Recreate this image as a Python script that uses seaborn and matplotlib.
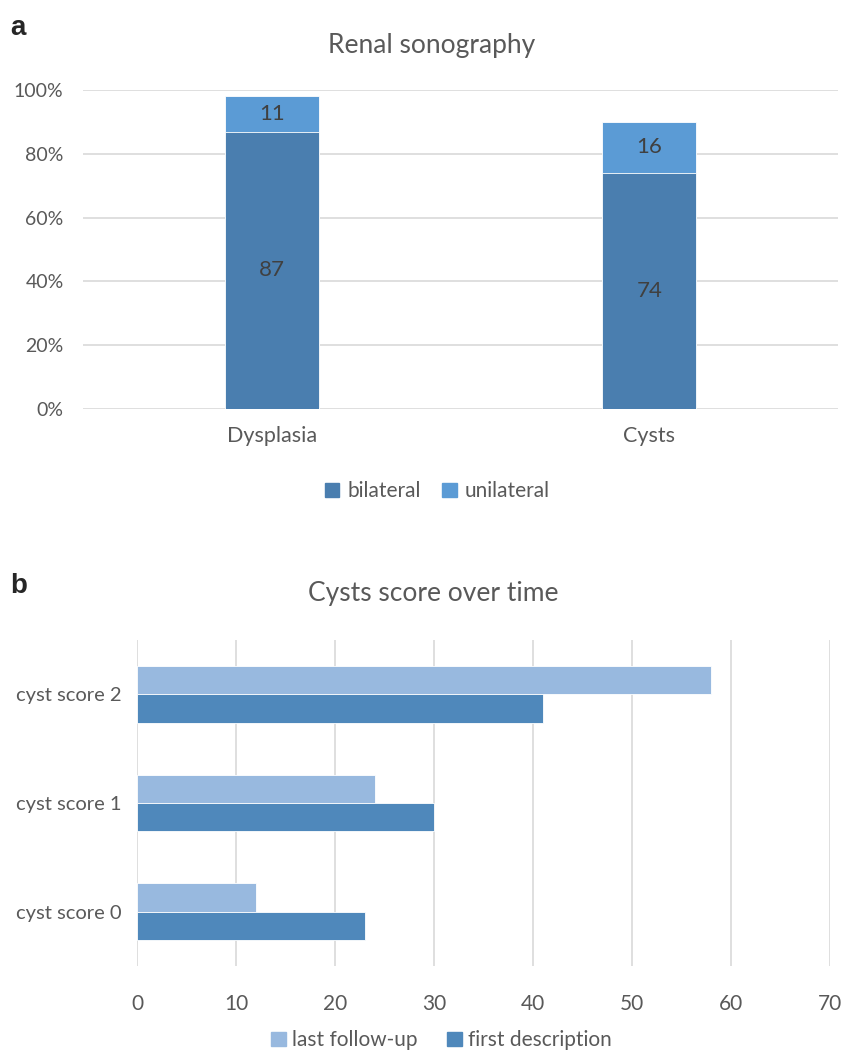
import seaborn as sns
import pandas as pd
import matplotlib.pyplot as plt
from matplotlib.patches import Patch
from matplotlib.ticker import PercentFormatter

# panel a data
sono_categories = ["Dysplasia", "Cysts"]
bilateral = [87, 74]
unilateral = [11, 16]

# panel b data
score_categories = ["cyst score 2", "cyst score 1", "cyst score 0"]
last_follow_up = [58, 24, 12]
first_description = [41, 30, 23]

sns.set_theme(style="white")
plt.rcParams['font.family'] = ['Lato', 'DejaVu Sans']

TEXT = "#595959"
GRID = "#D9D9D9"
c_bil, c_uni = "#4A7EAF", "#5B9BD5"
c_last, c_first = "#98B9DF", "#4F88BB"

fig = plt.figure(figsize=(8.41, 10.52), dpi=100)

# ---- panel a: stacked columns
ax1 = fig.add_axes([0.0987, 0.6112, 0.8977, 0.3032])
df_a = pd.DataFrame({"cat": sono_categories,
                     "bilateral": bilateral,
                     "total": [b + u for b, u in zip(bilateral, unilateral)]})
sns.barplot(data=df_a, x="cat", y="total", color=c_uni, width=0.25,
            saturation=1, ax=ax1, edgecolor="white", linewidth=0.6)
sns.barplot(data=df_a, x="cat", y="bilateral", color=c_bil, width=0.25,
            saturation=1, ax=ax1, edgecolor="white", linewidth=0.6)
ax1.set_ylim(0, 100)
ax1.set_xlim(-0.5, 1.5)
ax1.set_yticks(range(0, 101, 20))
ax1.yaxis.set_major_formatter(PercentFormatter(decimals=0))
ax1.yaxis.grid(True, color=GRID, linewidth=1.2)
ax1.set_axisbelow(True)
for s in ax1.spines.values():
    s.set_visible(False)
ax1.set_xlabel("")
ax1.set_ylabel("")
ax1.tick_params(axis="y", labelsize=14, colors=TEXT, length=0, pad=14)
ax1.tick_params(axis="x", labelsize=15.5, colors=TEXT, length=0, pad=12)
for i, (b, u) in enumerate(zip(bilateral, unilateral)):
    ax1.text(i, b / 2, str(b), ha="center", va="center", fontsize=16, color="#404040")
    ax1.text(i, b + u / 2, str(u), ha="center", va="center", fontsize=16, color="#404040")
fig.text(0.513, 0.957, "Renal sonography", ha="center", va="center", fontsize=19, color=TEXT)
fig.text(0.012, 0.973, "a", fontsize=20, fontweight="bold", family="Liberation Sans", va="center")
fig.legend(handles=[Patch(color=c_bil, label="bilateral"), Patch(color=c_uni, label="unilateral")],
           loc="center", bbox_to_anchor=(0.52, 0.533), ncol=2, frameon=False,
           fontsize=15, labelcolor=TEXT, handlelength=0.7, handleheight=0.7,
           handletextpad=0.4, columnspacing=1.0)

# ---- panel b: grouped horizontal bars
ax2 = fig.add_axes([0.1629, 0.0817, 0.824, 0.3099])
df_b = pd.DataFrame({
    "cat": score_categories * 2,
    "value": last_follow_up + first_description,
    "series": ["last follow-up"] * 3 + ["first description"] * 3,
})
sns.barplot(data=df_b, y="cat", x="value", hue="series", orient="h",
            hue_order=["last follow-up", "first description"],
            palette=[c_last, c_first], saturation=1, width=0.52, gap=0,
            ax=ax2, edgecolor="white", linewidth=0.6, legend=False)
ax2.set_xlim(0, 70)
ax2.set_ylim(2.5, -0.5)
ax2.set_xticks(range(0, 71, 10))
ax2.xaxis.grid(True, color=GRID, linewidth=1.2)
ax2.set_axisbelow(True)
for s in ax2.spines.values():
    s.set_visible(False)
ax2.set_xlabel("")
ax2.set_ylabel("")
ax2.tick_params(axis="y", labelsize=14.5, colors=TEXT, length=0, pad=11)
ax2.tick_params(axis="x", labelsize=15, colors=TEXT, length=0, pad=20)
fig.text(0.515, 0.436, "Cysts score over time", ha="center", va="center", fontsize=19, color=TEXT)
fig.text(0.012, 0.443, "b", fontsize=20, fontweight="bold", family="Liberation Sans", va="center")
fig.legend(handles=[Patch(color=c_last, label="last follow-up"), Patch(color=c_first, label="first description")],
           loc="center", bbox_to_anchor=(0.525, 0.011), ncol=2, frameon=False,
           fontsize=15, labelcolor=TEXT, handlelength=0.7, handleheight=0.7,
           handletextpad=0.3, columnspacing=1.4)

fig.savefig("out.png", dpi=100)
